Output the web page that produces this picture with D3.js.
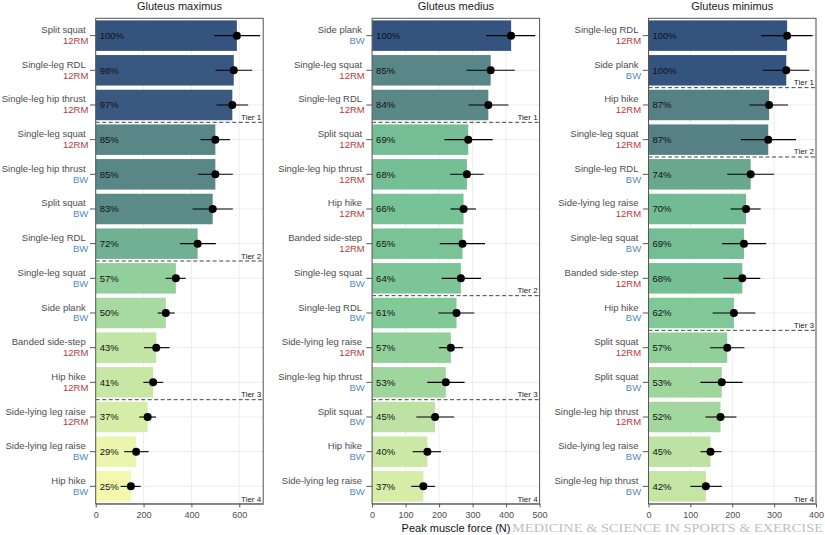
<!DOCTYPE html>
<html>
<head>
<meta charset="utf-8">
<script src="https://cdn.jsdelivr.net/npm/d3@7"></script>
<style>
  body { margin: 0; background: #fff; }
  svg { display: block; font-family: "Liberation Sans", Arial, sans-serif; }
</style>
</head>
<body>
<svg id="chart" width="825" height="535"></svg>
<script>
// ---- data ----
const muscles = ["Gluteus maximus", "Gluteus medius", "Gluteus minimus"];

const maxExercises = ["Split squat", "Single-leg RDL", "Single-leg hip thrust", "Single-leg squat", "Single-leg hip thrust", "Split squat", "Single-leg RDL", "Single-leg squat", "Side plank", "Banded side-step", "Hip hike", "Side-lying leg raise", "Side-lying leg raise", "Hip hike"];
const maxModes = ["12RM", "12RM", "12RM", "12RM", "BW", "BW", "BW", "BW", "BW", "12RM", "12RM", "12RM", "BW", "BW"];
const maxForce = [590, 577, 571, 500, 500, 489, 426, 335, 293, 253, 240, 217, 169, 147];
const maxLow = [495, 501, 505, 438, 427, 405, 352, 292, 259, 202, 199, 182, 119, 104];
const maxHigh = [687, 654, 637, 561, 573, 573, 502, 376, 330, 309, 282, 252, 221, 188];
const maxPct = [100, 98, 97, 85, 85, 83, 72, 57, 50, 43, 41, 37, 29, 25];
const maxTiers = [3, 7, 11];

const medExercises = ["Side plank", "Single-leg squat", "Single-leg RDL", "Split squat", "Single-leg hip thrust", "Hip hike", "Banded side-step", "Single-leg squat", "Single-leg RDL", "Side-lying leg raise", "Single-leg hip thrust", "Split squat", "Hip hike", "Side-lying leg raise"];
const medModes = ["BW", "12RM", "12RM", "12RM", "12RM", "12RM", "12RM", "BW", "BW", "12RM", "BW", "BW", "BW", "BW"];
const medForce = [415, 354, 347, 287, 283, 273, 270, 265, 252, 235, 220, 188, 165, 153];
const medLow = [340, 282, 288, 216, 233, 234, 202, 208, 198, 199, 165, 132, 121, 117];
const medHigh = [487, 426, 407, 360, 333, 310, 337, 325, 305, 271, 276, 245, 206, 188];
const medPct = [100, 85, 84, 69, 68, 66, 65, 64, 61, 57, 53, 45, 40, 37];
const medTiers = [3, 8, 11];

const minExercises = ["Single-leg RDL", "Side plank", "Hip hike", "Single-leg squat", "Single-leg RDL", "Side-lying leg raise", "Single-leg squat", "Banded side-step", "Hip hike", "Split squat", "Split squat", "Single-leg hip thrust", "Side-lying leg raise", "Single-leg hip thrust"];
const minModes = ["12RM", "BW", "12RM", "12RM", "BW", "12RM", "BW", "12RM", "BW", "12RM", "BW", "12RM", "BW", "BW"];
const minForce = [331, 329, 288, 286, 244, 233, 228, 224, 204, 188, 175, 172, 148, 137];
const minLow = [269, 273, 241, 221, 188, 196, 176, 179, 153, 147, 124, 136, 124, 100];
const minHigh = [392, 384, 333, 352, 300, 268, 281, 267, 255, 229, 225, 210, 174, 175];
const minPct = [100, 100, 87, 87, 74, 70, 69, 68, 62, 57, 53, 52, 45, 42];
const minTiers = [2, 4, 9];

const xMaxes = [700, 500, 400];
const xTicks = [[0, 200, 400, 600], [0, 100, 200, 300, 400, 500], [0, 100, 200, 300, 400]];

// ---- colour ramp over relative force (%) ----
const pctStops = [25, 29, 37, 42, 45, 50, 53, 57, 61, 66, 70, 74, 83, 88, 96, 100];
const pctColors = ["#f3f8ac", "#ebf5ab", "#d5eda7", "#c4e5a4", "#bde2a3", "#a8d9a0", "#9fd69e", "#92d09b", "#82c998", "#77c296", "#73bb94", "#6aa78f", "#5b8b88", "#557e83", "#3b5a80", "#34547f"];
const color = d3.scaleLinear().domain(pctStops).range(pctColors);
const modeColor = { "12RM": "#b8383a", "BW": "#4f8cbf" };

const panels = [
  { title: muscles[0], ex: maxExercises, mode: maxModes, force: maxForce, lo: maxLow, hi: maxHigh, pct: maxPct, tiers: maxTiers },
  { title: muscles[1], ex: medExercises, mode: medModes, force: medForce, lo: medLow, hi: medHigh, pct: medPct, tiers: medTiers },
  { title: muscles[2], ex: minExercises, mode: minModes, force: minForce, lo: minLow, hi: minHigh, pct: minPct, tiers: minTiers }
];

const svg = d3.select("#chart");
const topY = 18.3, bottomY = 503.7, pw = 167.5, firstLeft = 95.7, gap = 276.4;

panels.forEach(function (p, k) {
  const left = firstLeft + k * gap;
  const g = svg.append("g").attr("transform", `translate(${left},0)`);
  const x = d3.scaleLinear().domain([0, xMaxes[k]]).range([0, pw]);
  const idx = d3.range(p.ex.length);
  const y = d3.scaleBand().domain(idx).range([topY, bottomY]).padding(0);
  const bw = y.bandwidth();
  const cy = i => y(i) + bw / 2;

  // title
  g.append("text")
    .attr("x", pw / 2).attr("y", 10)
    .attr("text-anchor", "middle")
    .style("font-size", "11px").style("fill", "#1a1a1a")
    .text(p.title);

  // grid
  g.selectAll(".vgrid").data(xTicks[k]).join("line")
    .attr("x1", d => x(d)).attr("x2", d => x(d))
    .attr("y1", topY).attr("y2", bottomY)
    .attr("stroke", "#ebebeb").attr("stroke-width", 0.9);
  g.selectAll(".hgrid").data(idx).join("line")
    .attr("x1", 0).attr("x2", pw)
    .attr("y1", d => cy(d)).attr("y2", d => cy(d))
    .attr("stroke", "#ebebeb").attr("stroke-width", 0.9);

  // bars
  g.selectAll(".bar").data(idx).join("rect")
    .attr("x", x(0))
    .attr("y", d => y(d) + bw * 0.06)
    .attr("width", d => x(p.force[d]) - x(0))
    .attr("height", bw * 0.88)
    .attr("fill", d => color(p.pct[d]));

  // percent labels
  g.selectAll(".pct").data(idx).join("text")
    .attr("x", x(0) + 4)
    .attr("y", d => cy(d) + 3.4)
    .style("font-size", "9.5px").style("fill", "#111")
    .text(d => p.pct[d] + "%");

  // error bars + points
  g.selectAll(".err").data(idx).join("line")
    .attr("x1", d => x(p.lo[d])).attr("x2", d => x(p.hi[d]))
    .attr("y1", d => cy(d)).attr("y2", d => cy(d))
    .attr("stroke", "#000").attr("stroke-width", 1.1);
  g.selectAll(".dot").data(idx).join("circle")
    .attr("cx", d => x(p.force[d])).attr("cy", d => cy(d))
    .attr("r", 4).attr("fill", "#000");

  // tier lines
  g.selectAll(".tier").data(p.tiers).join("line")
    .attr("x1", 0).attr("x2", pw)
    .attr("y1", d => y(d - 1) + bw).attr("y2", d => y(d - 1) + bw)
    .attr("stroke", "#444").attr("stroke-width", 1)
    .attr("stroke-dasharray", "4,2.5");
  g.selectAll(".tierlab").data(p.tiers).join("text")
    .attr("x", pw - 2).attr("y", d => y(d - 1) + bw - 2.5)
    .attr("text-anchor", "end")
    .style("font-size", "8px").style("fill", "#1a1a1a")
    .text((d, i) => "Tier " + (i + 1));
  g.append("text")
    .attr("x", pw - 2).attr("y", bottomY - 1.5)
    .attr("text-anchor", "end")
    .style("font-size", "8px").style("fill", "#1a1a1a")
    .text("Tier 4");

  // panel border
  g.append("rect")
    .attr("x", 0).attr("y", topY).attr("width", pw).attr("height", bottomY - topY)
    .attr("fill", "none").attr("stroke", "#555").attr("stroke-width", 1);

  // x axis
  const xa = g.append("g").attr("transform", `translate(0,${bottomY})`)
    .call(d3.axisBottom(x).tickValues(xTicks[k]).tickSize(3.7).tickPadding(4.3).tickSizeOuter(0));
  xa.select(".domain").attr("stroke", "#8a8a8a").attr("stroke-width", 1.6);
  xa.selectAll(".tick line").attr("stroke", "#555");
  xa.selectAll(".tick text")
    .style("font-size", "9px").style("fill", "#4d4d4d")
    .style("font-family", "'Liberation Sans', Arial, sans-serif");

  // y ticks and two-line labels (one text element, two lines)
  g.selectAll(".ytick").data(idx).join("line")
    .attr("x1", -5.7).attr("x2", 0)
    .attr("y1", d => cy(d)).attr("y2", d => cy(d))
    .attr("stroke", "#555").attr("stroke-width", 1);
  const ylab = g.selectAll(".ylab").data(idx).join("text")
    .attr("class", "ylab")
    .attr("text-anchor", "end")
    .style("font-size", "9.5px");
  ylab.append("tspan")
    .attr("x", -10).attr("y", d => cy(d) - 2.5)
    .style("fill", "#4d4d4d")
    .text(d => p.ex[d]);
  ylab.append("tspan")
    .attr("x", -7.4).attr("y", d => cy(d) + 8.2)
    .style("fill", d => modeColor[p.mode[d]])
    .text(d => p.mode[d]);
});

// axis title
svg.append("text")
  .attr("x", 456).attr("y", 532)
  .attr("text-anchor", "middle")
  .style("font-size", "11px").style("fill", "#111")
  .text("Peak muscle force (N)");

// journal watermark
svg.append("text")
  .attr("x", 512).attr("y", 531.5)
  .attr("textLength", 311).attr("lengthAdjust", "spacingAndGlyphs")
  .style("font-family", "'Liberation Serif', 'DejaVu Serif', serif")
  .style("font-size", "12.8px").style("fill", "#b5b5b5").style("opacity", 0.85)
  .text("MEDICINE & SCIENCE IN SPORTS & EXERCISE");
</script>
</body>
</html>
